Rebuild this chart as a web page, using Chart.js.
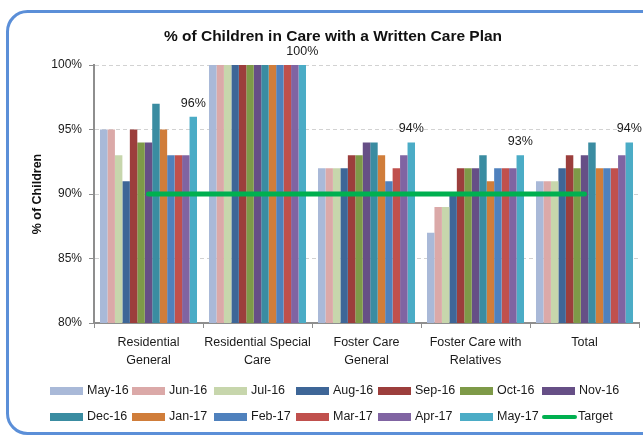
<!DOCTYPE html>
<html>
<head>
<meta charset="utf-8">
<script src="https://cdn.jsdelivr.net/npm/chart.js@4.4.1/dist/chart.umd.min.js"></script>
<style>
  html, body { margin: 0; padding: 0; background: #fff; }
</style>
</head>
<body>
<canvas id="js-careChart" width="643" height="437"></canvas>
<script>
/*--------------------
    01.data
--------------------*/
var categories = [["Residential", "General"], ["Residential Special", "Care"], ["Foster Care", "General"], ["Foster Care with", "Relatives"], "Total"];
var months = ["May-16", "Jun-16", "Jul-16", "Aug-16", "Sep-16", "Oct-16", "Nov-16", "Dec-16", "Jan-17", "Feb-17", "Mar-17", "Apr-17", "May-17"];
var monthColors = ["#A9B9D8", "#DBA9A8", "#C7D6AC", "#3E6697", "#9C3E3C", "#7E9A48", "#664F86", "#3A8CA1", "#D07D3A", "#4F81BD", "#C0504D", "#8064A2", "#4BACC6"];

// one row per category, one value per month
var residentialGeneral = [95, 95, 93, 91, 95, 94, 94, 97, 95, 93, 93, 93, 96];
var residentialSpecial = [100, 100, 100, 100, 100, 100, 100, 100, 100, 100, 100, 100, 100];
var fosterGeneral      = [92, 92, 92, 92, 93, 93, 94, 94, 93, 91, 92, 93, 94];
var fosterRelatives    = [87, 89, 89, 90, 92, 92, 92, 93, 91, 92, 92, 92, 93];
var totalAll           = [91, 91, 91, 92, 93, 92, 93, 94, 92, 92, 92, 93, 94];
var target = [90, 90, 90, 90, 90];
var yTicks = [80, 85, 90, 95, 100];

var rows = [residentialGeneral, residentialSpecial, fosterGeneral, fosterRelatives, totalAll];

/*--------------------
    02.plugins
--------------------*/
var FONT = "'Liberation Sans', Arial, sans-serif";

//a.frame
var framePlugin = {
    id: 'frame',
    beforeDraw: function (chart) {
        var c = chart.ctx;
        c.save();
        c.fillStyle = '#fff';
        c.fillRect(0, 0, chart.width, chart.height);
        c.restore();
    },
    afterDraw: function (chart) {
        var c = chart.ctx;
        c.save();
        c.strokeStyle = '#5B8FD8';
        c.lineWidth = 3;
        c.beginPath();
        c.roundRect(7.5, 11.5, 700, 422, 20);
        c.stroke();
        c.restore();
    }
};

//b.value labels on the last month
var valueLabels = {
    id: 'valueLabels',
    afterDatasetsDraw: function (chart) {
        var last = months.length - 1;
        var meta = chart.getDatasetMeta(last);
        var c = chart.ctx;
        c.save();
        c.font = '12.5px ' + FONT;
        c.fillStyle = '#1a1a1a';
        c.textAlign = 'center';
        c.textBaseline = 'middle';
        meta.data.forEach(function (bar, i) {
            c.fillText(chart.data.datasets[last].data[i] + '%', bar.x, bar.y - 13.5);
        });
        c.restore();
    }
};

//c.legend (7 per row)
var gridLegend = {
    id: 'gridLegend',
    afterDraw: function (chart) {
        var c = chart.ctx;
        c.save();
        c.font = '12.5px ' + FONT;
        c.textBaseline = 'middle';
        chart.data.datasets.forEach(function (ds, i) {
            var x = 50 + (i % 7) * 82;
            var y = 391 + Math.floor(i / 7) * 26;
            if (ds.type === 'line') {
                c.strokeStyle = ds.borderColor;
                c.lineWidth = 4;
                c.lineCap = 'round';
                c.beginPath();
                c.moveTo(x + 2, y);
                c.lineTo(x + 33, y);
                c.stroke();
                c.fillStyle = '#1a1a1a';
                c.fillText(ds.label, x + 36, y);
            } else {
                c.fillStyle = ds.backgroundColor;
                c.fillRect(x, y - 4, 33, 8);
                c.fillStyle = '#1a1a1a';
                c.fillText(ds.label, x + 37, y);
            }
        });
        c.restore();
    }
};

/*--------------------
    03.chart
--------------------*/
var datasets = months.map(function (m, i) {
    return {
        type: 'bar',
        label: m,
        data: rows.map(function (r) { return r[i]; }),
        backgroundColor: monthColors[i],
        borderWidth: 0,
        categoryPercentage: 0.89,
        barPercentage: 1.0,
        order: 1
    };
});
datasets.push({
    type: 'line',
    label: 'Target',
    data: target,
    borderColor: '#00B050',
    borderWidth: 5,
    borderCapStyle: 'round',
    pointRadius: 0,
    fill: false,
    order: 0
});

var ctx = document.getElementById("js-careChart").getContext("2d");
var myChart = new Chart(ctx, {
    type: 'bar',
    data: {
        labels: categories,
        datasets: datasets
    },
    plugins: [framePlugin, valueLabels, gridLegend],
    options: {
        responsive: false,
        animation: false,
        // left padding moves the title centre to the right like the original
        layout: { padding: { left: 27, right: 4, top: 0, bottom: 0 } },
        plugins: {
            legend: { display: false },
            tooltip: { enabled: false },
            title: {
                display: true,
                text: '% of Children in Care with a Written Care Plan',
                color: '#111',
                font: { family: FONT, size: 15.5, weight: 'bold', lineHeight: 1.2 },
                padding: { top: 27, bottom: 19.5 }
            }
        },
        scales: {
            x: {
                offset: true,
                grid: {
                    display: true,
                    offset: true,
                    drawOnChartArea: false,
                    tickLength: 5,
                    color: '#8E8E8E'
                },
                border: { color: '#8E8E8E', width: 2 },
                ticks: {
                    color: '#1a1a1a',
                    font: { family: FONT, size: 12.5, lineHeight: 1.44 },
                    padding: 6,
                    maxRotation: 0,
                    autoSkip: false
                },
                afterFit: function (scale) { scale.height = 114; }
            },
            y: {
                min: 80,
                max: 100,
                afterBuildTicks: function (scale) {
                    scale.ticks = yTicks.map(function (v) { return { value: v }; });
                },
                grid: {
                    color: '#D2D2D2',
                    tickColor: '#8E8E8E',
                    tickLength: 5,
                    tickBorderDash: []
                },
                border: { color: '#8E8E8E', width: 2, dash: [4, 3] },
                ticks: {
                    color: '#1a1a1a',
                    font: { family: FONT, size: 12 },
                    padding: 7,
                    callback: function (v) { return v + '%'; }
                },
                title: {
                    display: true,
                    text: '% of Children',
                    color: '#111',
                    font: { family: FONT, size: 12.5, weight: 'bold', lineHeight: 1.2 },
                    padding: { top: 3, bottom: 0 }
                },
                afterFit: function (scale) { scale.width = 67; }
            }
        }
    }
});
</script>
</body>
</html>
